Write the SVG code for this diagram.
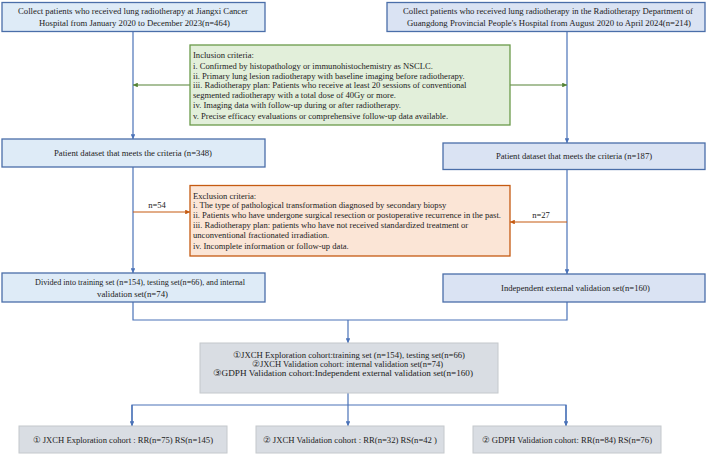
<svg xmlns="http://www.w3.org/2000/svg" width="708" height="455" viewBox="0 0 708 455">
<defs>
<style>
text{font-family:"Liberation Serif","Times New Roman",serif;font-size:8.6px;fill:#222}
.c{text-anchor:middle}
.t{font-size:9px}
.bl{fill:#deebf7;stroke:#4a6ea9;stroke-width:1.3}
.br{fill:#dae3f3;stroke:#4a6ea9;stroke-width:1.3}
.gr{fill:#e2efda;stroke:#6a9a4a;stroke-width:1.3}
.or{fill:#fbe5d6;stroke:#c55a11;stroke-width:1.3}
.gy{fill:#d9dde3;stroke:#c4c8cc;stroke-width:1}
.lb{fill:none;stroke:#4a72b8;stroke-width:1.2}
.lg{fill:none;stroke:#548235;stroke-width:1.2}
.lo{fill:none;stroke:#c55a11;stroke-width:1.2}
</style>
<marker id="ab" viewBox="0 0 6 6" refX="6" refY="3" markerWidth="4" markerHeight="4" orient="auto"><path d="M0,0L6,3L0,6z" fill="#4a72b8"/></marker>
<marker id="ag" viewBox="0 0 6 6" refX="6" refY="3" markerWidth="4" markerHeight="4" orient="auto"><path d="M0,0L6,3L0,6z" fill="#548235"/></marker>
<marker id="ao" viewBox="0 0 6 6" refX="6" refY="3" markerWidth="4" markerHeight="4" orient="auto"><path d="M0,0L6,3L0,6z" fill="#c55a11"/></marker>
</defs>
<rect width="708" height="455" fill="#fff"/>
<g id="connectors">
<path class="lb" d="M133,32V139" marker-end="url(#ab)"/>
<path class="lb" d="M567,32V143" marker-end="url(#ab)"/>
<path class="lg" d="M190,85H133" marker-end="url(#ag)"/>
<path class="lg" d="M510,85H567" marker-end="url(#ag)"/>
<path class="lb" d="M133,167V273" marker-end="url(#ab)"/>
<path class="lb" d="M567,169V274" marker-end="url(#ab)"/>
<path class="lo" d="M133,212H190" marker-end="url(#ao)"/>
<path class="lo" d="M567,222H510" marker-end="url(#ao)"/>
<text x="157" y="208" class="c">n=54</text>
<text x="541" y="218" class="c">n=27</text>
<path class="lb" d="M133,302V320H567V302"/>
<path class="lb" d="M348,320V343" marker-end="url(#ab)"/>
<path class="lb" d="M348,393V426" marker-end="url(#ab)"/>
<path class="lb" d="M132,426V405H566V426"/>
<path class="lb" d="M132,405V426" marker-end="url(#ab)"/>
<path class="lb" d="M566,405V426" marker-end="url(#ab)"/>
</g>
<g id="n1">
<rect class="bl" x="2" y="2.5" width="263" height="29"/>
<text x="18" y="14" class="t" textLength="230" lengthAdjust="spacingAndGlyphs">Collect patients  who received lung radiotherapy at Jiangxi Cancer</text>
<text x="39" y="26" class="t" textLength="191" lengthAdjust="spacingAndGlyphs">Hospital from January 2020 to December 2023(n=464)</text>
</g>
<g id="n2">
<rect class="br" x="387" y="2.5" width="318" height="29"/>
<text x="403" y="14" style="font-size:8.8px" textLength="290" lengthAdjust="spacingAndGlyphs">Collect patients who received lung radiotherapy in the Radiotherapy Department of</text>
<text x="407" y="26" class="t" textLength="284" lengthAdjust="spacingAndGlyphs">Guangdong Provincial People's Hospital from August 2020 to April 2024(n=214)</text>
</g>
<g id="inclusion">
<rect class="gr" x="190" y="45" width="320" height="80"/>
<text x="193" y="58">Inclusion criteria:</text>
<text x="193" y="68.5">i. Confirmed by histopathology or immunohistochemistry as NSCLC.</text>
<text x="193" y="78.5">ii. Primary lung lesion radiotherapy with baseline imaging before radiotherapy.</text>
<text x="193" y="88">iii. Radiotherapy plan: Patients who receive at least 20 sessions of conventional</text>
<text x="193" y="98">segmented radiotherapy with a total dose of 40Gy or more.</text>
<text x="193" y="108">iv. Imaging data with follow-up during or after radiotherapy.</text>
<text x="193" y="118.5">v. Precise efficacy evaluations or comprehensive follow-up data available.</text>
</g>
<g id="n3">
<rect class="bl" x="2" y="139" width="263" height="28"/>
<text x="54" y="156" textLength="158" lengthAdjust="spacingAndGlyphs">Patient dataset that meets the criteria (n=348)</text>
</g>
<g id="n4">
<rect class="br" x="443" y="143" width="262" height="26.5"/>
<text x="574" y="159" class="c">Patient dataset that meets the criteria (n=187)</text>
</g>
<g id="exclusion">
<rect class="or" x="190" y="185.5" width="320" height="70.5"/>
<text x="193" y="198.5">Exclusion criteria:</text>
<text x="193" y="208">i. The type of pathological transformation diagnosed by secondary biopsy</text>
<text x="193" y="218">ii. Patients who have undergone surgical resection or postoperative recurrence in the past.</text>
<text x="193" y="228">iii. Radiotherapy plan: patients who have not received standardized treatment or</text>
<text x="193" y="238">unconventional fractionated irradiation.</text>
<text x="193" y="248.5">iv. Incomplete information or follow-up data.</text>
</g>
<g id="n5">
<rect class="bl" x="2" y="273" width="263" height="29"/>
<text x="35" y="285" textLength="210" lengthAdjust="spacingAndGlyphs">Divided into training set (n=154), testing set(n=66), and internal</text>
<text x="97" y="297" textLength="71" lengthAdjust="spacingAndGlyphs">validation set(n=74)</text>
</g>
<g id="n6">
<rect class="br" x="443" y="274" width="262" height="28"/>
<text x="501" y="291" textLength="149" lengthAdjust="spacingAndGlyphs">Independent external validation set(n=160)</text>
</g>
<g id="n7">
<rect class="gy" x="200" y="343" width="298" height="50"/>
<text x="233" y="358" textLength="232" lengthAdjust="spacingAndGlyphs">①JXCH Exploration cohort:training set (n=154), testing  set(n=66)</text>
<text x="252" y="367" textLength="191" lengthAdjust="spacingAndGlyphs">②JXCH Validation cohort: internal validation set(n=74)</text>
<text x="213" y="376" textLength="260" lengthAdjust="spacingAndGlyphs">③GDPH Validation cohort:Independent external validation set(n=160)</text>
</g>
<g id="n8">
<rect class="gy" x="19" y="426" width="208" height="27"/>
<text x="33" y="442.5" class="t" textLength="180" lengthAdjust="spacingAndGlyphs">① JXCH Exploration cohort : RR(n=75) RS(n=145)</text>
</g>
<g id="n9">
<rect class="gy" x="256" y="426" width="188" height="27"/>
<text x="263" y="442.5" class="t" textLength="174" lengthAdjust="spacingAndGlyphs">② JXCH Validation cohort : RR(n=32) RS(n=42 )</text>
</g>
<g id="n10">
<rect class="gy" x="473" y="426" width="188" height="27"/>
<text x="482" y="442.5" class="t" textLength="170" lengthAdjust="spacingAndGlyphs">② GDPH Validation cohort: RR(n=84) RS(n=76)</text>
</g>
</svg>
